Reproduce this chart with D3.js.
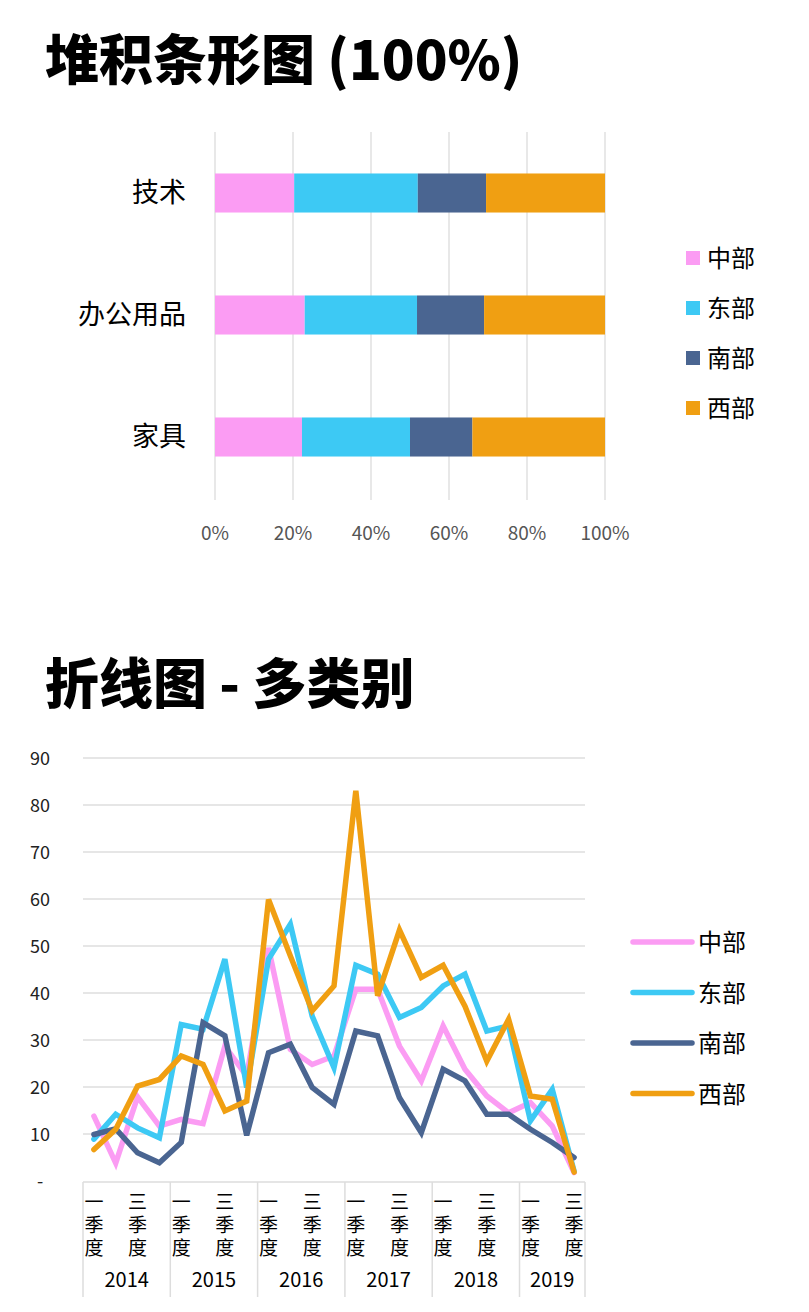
<!DOCTYPE html>
<html><head><meta charset="utf-8">
<script src="https://cdn.jsdelivr.net/npm/d3@7"></script>
<style>body{margin:0;background:#fff}svg{font-family:"Noto Sans CJK SC","Noto Sans",sans-serif}</style>
</head><body><svg id="c" width="809" height="1312"></svg>
<script>
const barCats = ["技术","办公用品","家具"];
const regions = ["中部","东部","南部","西部"];
const colors = ["#fb9cf3","#3dc9f4","#4a6591","#f09f12"];
const barShares = {
  "中部":[20.3,23.0,22.3],
  "东部":[31.7,28.8,27.7],
  "南部":[17.5,17.2,16.0],
  "西部":[30.5,31.0,34.0]
};
const pctTicks = [0,20,40,60,80,100];
const years = ["2014","2015","2016","2017","2018","2019"];
const quarters = ["一季度","二季度","三季度","四季度"];
const yearQuarterCounts = [4,4,4,4,4,3];
const lineVals = {
  "中部":[13.8,3.8,17.9,11.7,13.1,12.2,28.7,22.3,49.6,28,24.8,26.6,40.8,40.8,28.7,21.3,33,23.8,18.1,14.5,16.7,11.7,1.8],
  "东部":[8.9,14.2,11.3,9.2,33.3,32.3,47.2,19.9,47.2,54.6,35.1,24.1,45.9,44,34.8,36.9,41.5,44,31.9,33,12.8,19.5,2.1],
  "南部":[9.9,11.1,6,3.9,8.2,33.7,30.9,9.7,27.3,29.1,19.9,16.3,31.9,30.9,17.7,10.3,23.8,21.3,14.2,14.2,11,8.2,5],
  "西部":[6.7,11,20.2,21.6,26.6,24.8,14.9,17,59.9,47.9,36.2,41.5,83,39.4,53.4,43.3,45.9,37.2,25.5,34.4,18.1,17.4,1.9]
};
const yTicks = [0,10,20,30,40,50,60,70,80,90];

const svg = d3.select("#c");
svg.append("text").attr("x",45).attr("y",80).attr("font-size",54).attr("font-weight",900).text("堆积条形图 (100%)");
svg.append("text").attr("x",45).attr("y",704).attr("font-size",54).attr("font-weight",900).text("折线图 - 多类别");

const bx = d3.scaleLinear().domain([0,100]).range([215,605]);
const by = d3.scaleBand().domain(barCats).range([132,498]).paddingInner(0.68).paddingOuter(0.34);
svg.append("g").selectAll("line").data(pctTicks).join("line")
  .attr("x1",d=>bx(d)).attr("x2",d=>bx(d)).attr("y1",132).attr("y2",500)
  .attr("stroke","#dcdcdc").attr("stroke-width",1.3);
barCats.forEach((c,i)=>{
  let acc=0;
  regions.forEach((r,j)=>{
    const v=barShares[r][i];
    svg.append("rect").attr("x",bx(acc)).attr("width",bx(acc+v)-bx(acc))
      .attr("y",by(c)).attr("height",by.bandwidth()).attr("fill",colors[j]);
    acc+=v;
  });
  svg.append("text").attr("x",186).attr("y",by(c)+by.bandwidth()/2+9).attr("text-anchor","end")
    .attr("font-size",27).text(c);
});
svg.append("g").selectAll("text").data(pctTicks).join("text")
  .attr("x",d=>bx(d)).attr("y",540).attr("text-anchor","middle").attr("font-size",19).attr("fill","#555")
  .text(d=>d+"%");
regions.forEach((r,j)=>{
  const y=258+j*50;
  svg.append("rect").attr("x",686).attr("y",y-7).attr("width",14).attr("height",14).attr("fill",colors[j]);
  svg.append("text").attr("x",707).attr("y",y+9).attr("font-size",24).text(r);
});

const n = lineVals["中部"].length;
const x0=83, x1=585;
const step=(x1-x0)/n;
const lx = d3.scaleLinear().domain([0,n-1]).range([x0+step/2, x1-step/2]);
const ly = d3.scaleLinear().domain([0,90]).range([1181,758]);
svg.append("g").selectAll("line").data(yTicks.slice(1)).join("line")
  .attr("x1",x0).attr("x2",x1).attr("y1",d=>ly(d)).attr("y2",d=>ly(d))
  .attr("stroke","#dedede").attr("stroke-width",1.5);
svg.append("g").selectAll("text").data(yTicks).join("text")
  .attr("x",40).attr("y",d=>ly(d)+7).attr("text-anchor","middle").attr("font-size",18).attr("fill","#222")
  .text(d=>d===0?"-":d);
svg.append("line").attr("x1",x0).attr("x2",x1).attr("y1",1182).attr("y2",1182).attr("stroke","#ddd").attr("stroke-width",1.5);
let idx=0;
const bounds=[0];
yearQuarterCounts.forEach(c=>{idx+=c;bounds.push(idx);});
svg.append("g").selectAll("line").data(bounds).join("line")
  .attr("x1",d=>x0+d*step).attr("x2",d=>x0+d*step).attr("y1",1182).attr("y2",1297)
  .attr("stroke","#ddd").attr("stroke-width",1.5);
years.forEach((yr,i)=>{
  const a=bounds[i], b=bounds[i+1];
  svg.append("text").attr("x",x0+(a+b)/2*step).attr("y",1287).attr("text-anchor","middle").attr("font-size",20).text(yr);
  for(let q=0;q<yearQuarterCounts[i];q+=2){
    const cx=lx(a+q);
    const lab=quarters[q];
    lab.split("").forEach((ch,k)=>{
      svg.append("text").attr("x",cx).attr("y",1209+k*23).attr("text-anchor","middle").attr("font-size",19).text(ch);
    });
  }
});
const line=d3.line().x((d,i)=>lx(i)).y(d=>ly(d));
regions.forEach((r,j)=>{
  svg.append("path").datum(lineVals[r]).attr("d",line).attr("fill","none")
    .attr("stroke",colors[j]).attr("stroke-width",5.5).attr("stroke-linejoin","miter").attr("stroke-linecap","round");
  const y=942+j*50.5;
  svg.append("line").attr("x1",633).attr("x2",692).attr("y1",y).attr("y2",y).attr("stroke",colors[j]).attr("stroke-width",5.5).attr("stroke-linecap","round");
  svg.append("text").attr("x",698).attr("y",y+9).attr("font-size",24).text(r);
});
</script></body></html>
